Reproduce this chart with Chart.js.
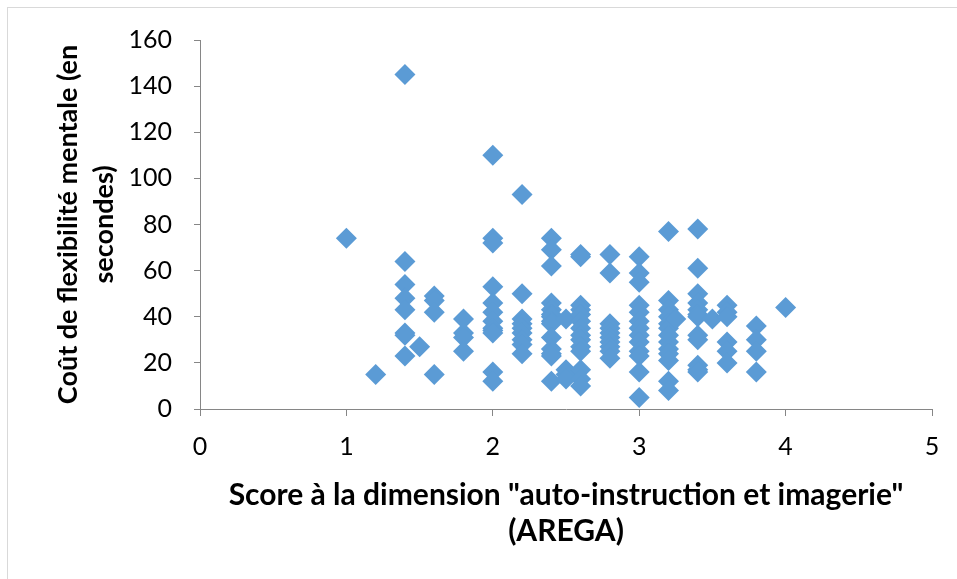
<!DOCTYPE html>
<html lang="fr">
<head>
    <meta charset="UTF-8">
    <title>Coût de flexibilité mentale selon le score AREGA</title>
    <script src="https://cdn.jsdelivr.net/npm/chart.js"></script>
    <style>
        html, body { margin: 0; padding: 0; background: #ffffff; }
        #wrap { position: relative; width: 957px; height: 579px; }
    </style>
</head>
<body>
    <div id="wrap">
        <canvas id="scatterChart" width="957" height="579"></canvas>
    </div>

    <script>
        // Score "auto-instruction et imagerie" (AREGA) de chaque participant
        var scores = [
            1,
            1.2,
            1.4, 1.4, 1.4, 1.4, 1.4, 1.4, 1.4, 1.4,
            1.5,
            1.6, 1.6, 1.6, 1.6,
            1.8, 1.8, 1.8, 1.8,
            2, 2, 2, 2, 2, 2, 2, 2, 2, 2, 2, 2,
            2.2, 2.2, 2.2, 2.2, 2.2, 2.2, 2.2, 2.2, 2.2,
            2.4, 2.4, 2.4, 2.4, 2.4, 2.4, 2.4, 2.4, 2.4, 2.4, 2.4, 2.4, 2.4, 2.4,
            2.5, 2.5, 2.5, 2.5,
            2.6, 2.6, 2.6, 2.6, 2.6, 2.6, 2.6, 2.6, 2.6, 2.6, 2.6, 2.6, 2.6, 2.6,
            2.8, 2.8, 2.8, 2.8, 2.8, 2.8, 2.8, 2.8, 2.8, 2.8,
            3, 3, 3, 3, 3, 3, 3, 3, 3, 3, 3, 3, 3,
            3.2, 3.2, 3.2, 3.2, 3.2, 3.2, 3.2, 3.2, 3.2, 3.2, 3.2, 3.2, 3.2,
            3.25,
            3.4, 3.4, 3.4, 3.4, 3.4, 3.4, 3.4, 3.4, 3.4, 3.4, 3.4, 3.4,
            3.5,
            3.6, 3.6, 3.6, 3.6, 3.6, 3.6,
            3.8, 3.8, 3.8, 3.8,
            4
        ];

        // Coût de flexibilité mentale (secondes), même ordre que scores
        var couts = [
            74,
            15,
            145, 64, 54, 48, 43, 33, 32, 23,
            27,
            49, 47, 42, 15,
            39, 33, 31, 25,
            110, 74, 72, 53, 46, 42, 38, 35, 34, 33, 16, 12,
            93, 50, 39, 37, 35, 33, 30, 28, 24,
            74, 69, 62, 46, 43, 41, 40, 38, 37, 31, 26, 24, 23, 12,
            39, 17, 15, 13,
            67, 66, 45, 43, 41, 38, 35, 32, 30, 27, 25, 17, 13, 10,
            67, 59, 37, 35, 33, 31, 29, 27, 25, 22,
            66, 59, 55, 45, 42, 38, 35, 32, 29, 25, 23, 16, 5,
            77, 47, 43, 40, 37, 35, 32, 29, 26, 24, 21, 12, 8,
            39,
            78, 61, 50, 46, 43, 41, 40, 32, 30, 19, 17, 16,
            39,
            45, 42, 40, 29, 25, 20,
            36, 30, 25, 16,
            44
        ];

        var titreX = ['Score à la dimension "auto-instruction et imagerie"', '(AREGA)'];
        var titreY = ['Coût de flexibilité mentale (en', 'secondes)'];

        var points = scores.map(function (s, i) {
            return { x: s, y: couts[i] };
        });

        // cadre gris clair autour du graphique
        var cadre = {
            id: 'cadre',
            beforeDraw: function (chart) {
                var ctx = chart.ctx;
                ctx.save();
                ctx.strokeStyle = '#d9d9d9';
                ctx.lineWidth = 1;
                ctx.strokeRect(7.5, 7.5, 1000, 1000);
                ctx.restore();
            }
        };

        var police = "Lato, 'Open Sans', sans-serif";
        var gris = '#868686';

        var scatterChart = new Chart(document.getElementById('scatterChart'), {
            type: 'scatter',
            data: {
                datasets: [{
                    data: points,
                    pointStyle: 'rectRot',
                    pointRadius: 10.5,
                    pointHoverRadius: 10.5,
                    backgroundColor: '#5b9bd5',
                    borderColor: '#5b9bd5',
                    borderWidth: 0
                }]
            },
            options: {
                responsive: false,
                animation: false,
                events: [],
                layout: {
                    padding: { top: 40, right: 25, left: 0, bottom: 0 }
                },
                plugins: {
                    legend: { display: false },
                    tooltip: { enabled: false }
                },
                scales: {
                    x: {
                        type: 'linear',
                        min: 0,
                        max: 5,
                        afterFit: function (scale) { scale.height = 170; },
                        ticks: {
                            stepSize: 1,
                            padding: 16,
                            color: '#000000',
                            font: { family: police, size: 25 }
                        },
                        grid: {
                            drawOnChartArea: false,
                            drawTicks: true,
                            tickLength: 7,
                            color: gris
                        },
                        border: { color: gris, width: 1 },
                        title: {
                            display: true,
                            text: titreX,
                            color: '#000000',
                            font: { family: police, size: 30, weight: 'bold', lineHeight: 1.2 },
                            padding: { top: 0, bottom: 30 }
                        }
                    },
                    y: {
                        type: 'linear',
                        min: 0,
                        max: 160,
                        afterFit: function (scale) { scale.width = 200; },
                        ticks: {
                            stepSize: 20,
                            padding: 22,
                            color: '#000000',
                            font: { family: police, size: 25 }
                        },
                        grid: {
                            drawOnChartArea: false,
                            drawTicks: true,
                            tickLength: 6,
                            color: gris
                        },
                        border: { color: gris, width: 1 },
                        title: {
                            display: true,
                            text: titreY,
                            color: '#000000',
                            font: { family: police, size: 27, weight: 'bold', lineHeight: 1.33 },
                            padding: { top: 50, bottom: 0 }
                        }
                    }
                }
            },
            plugins: [cadre]
        });
    </script>
</body>
</html>
